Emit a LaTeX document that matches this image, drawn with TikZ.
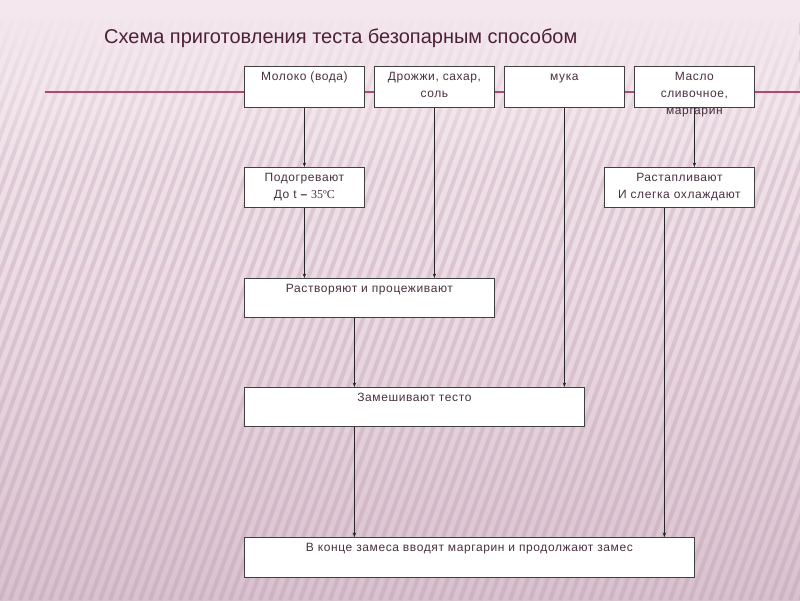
\documentclass[tikz,border=0pt]{standalone}
\usepackage{fontspec}
\setmainfont{Liberation Sans}
\newfontfamily\boxfont[LetterSpace=5]{Liberation Sans}
\newfontfamily\serifnum{Liberation Serif}
\usetikzlibrary{arrows.meta,fadings}
\definecolor{bgtop}{HTML}{F4E8EE}
\definecolor{bgmid}{HTML}{EBDAE3}
\definecolor{bgbot}{HTML}{D9C2CF}
\definecolor{stripecol}{HTML}{B893A8}
\definecolor{titlecol}{HTML}{4D2038}
\definecolor{txtcol}{HTML}{4A3040}
\definecolor{redline}{HTML}{B5476E}
\tikzfading[name=topfade, top color=transparent!0, bottom color=transparent!100]
\begin{document}
\begin{tikzpicture}[x=1pt,y=-1pt,
  boxst/.style={draw=black!75, fill=white, line width=0.8pt, inner sep=0pt, anchor=north west},
  txt/.style={font=\boxfont\fontsize{12}{17}\selectfont, text=txtcol, align=center, inner sep=0pt, anchor=north},
  conn/.style={draw=black!85, line width=0.8pt, -{Stealth[length=4.5pt,width=3.5pt]}},
  stripe/.style={draw=stripecol, line width=4pt}]
\useasboundingbox (0,0) rectangle (800,600);
% background
\fill[top color=bgtop, bottom color=bgbot, middle color=bgmid] (0,0) rectangle (800,600);
\begin{scope}
  \clip (0,20) rectangle (800,600);
  \foreach \x in {-240,-230,...,800} \draw[stripe, opacity=0.3] (\x,600) -- ({\x+220},0);
\end{scope}
\fill[bgtop, path fading=topfade] (0,0) rectangle (800,180);
% title
\node[anchor=west, font=\fontsize{20}{22}\selectfont, text=titlecol, inner sep=0pt] (title) at (104,38) {Схема приготовления теста безопарным способом};
% red line
\coordinate (lineL) at (45,92);
\coordinate (lineR) at (800,92);
\draw[redline, line width=1.5pt] (lineL) -- (lineR);
% boxes
\node[boxst, minimum width=120pt, minimum height=41pt] (milk) at (244,66) {};
\node[boxst, minimum width=120pt, minimum height=41pt] (yeast) at (374,66) {};
\node[boxst, minimum width=120pt, minimum height=41pt] (flour) at (504,66) {};
\node[boxst, minimum width=120pt, minimum height=41pt] (butter) at (634,66) {};
\node[boxst, minimum width=120pt, minimum height=40pt] (heat) at (244,167) {};
\node[boxst, minimum width=150pt, minimum height=40pt] (melt) at (604,167) {};
\node[boxst, minimum width=250pt, minimum height=39pt] (dissolve) at (244,278) {};
\node[boxst, minimum width=340pt, minimum height=39pt] (knead) at (244,387) {};
\node[boxst, minimum width=450pt, minimum height=40pt] (final) at (244,537) {};
% texts
\node[txt] (tmilk) at ([yshift=-2pt]milk.north) {\strut Молоко (вода)};
\node[txt] (tyeast) at ([yshift=-2pt]yeast.north) {\strut Дрожжи, сахар,\\соль};
\node[txt] (tflour) at ([yshift=-2pt]flour.north) {\strut мука};
\node[txt] (tbutter) at ([yshift=-2pt]butter.north) {\strut Масло\\сливочное,\\маргарин};
\node[txt] (theat) at ([yshift=-2pt]heat.north) {\strut Подогревают\\До t {\bfseries –} {\serifnum 35ºC}};
\node[txt] (tmelt) at ([yshift=-2pt]melt.north) {\strut Растапливают\\И слегка охлаждают};
\node[txt] (tdissolve) at ([yshift=-2pt]dissolve.north) {\strut Растворяют и процеживают};
\node[txt] (tknead) at ([yshift=-2pt]knead.north) {\strut Замешивают тесто};
\node[txt] (tfinal) at ([yshift=-2pt]final.north) {\strut В конце замеса вводят маргарин и продолжают замес};
% connector start/end points
\coordinate (dissX) at ([xshift=-15pt]dissolve.south);
\coordinate (meltX) at ([xshift=-15pt]melt.south);
% connectors
\draw[conn] (milk.south) -- (heat.north);
\draw[conn] (heat.south) -- (heat.south |- dissolve.north);
\draw[conn] (yeast.south) -- (yeast.south |- dissolve.north);
\draw[conn] (flour.south) -- (flour.south |- knead.north);
\draw[conn] (butter.south) -- (butter.south |- melt.north);
\draw[conn] (dissX) -- (dissX |- knead.north);
\draw[conn] (dissX |- knead.south) -- (dissX |- final.north);
\draw[conn] (meltX) -- (meltX |- final.north);
\end{tikzpicture}
\end{document}
